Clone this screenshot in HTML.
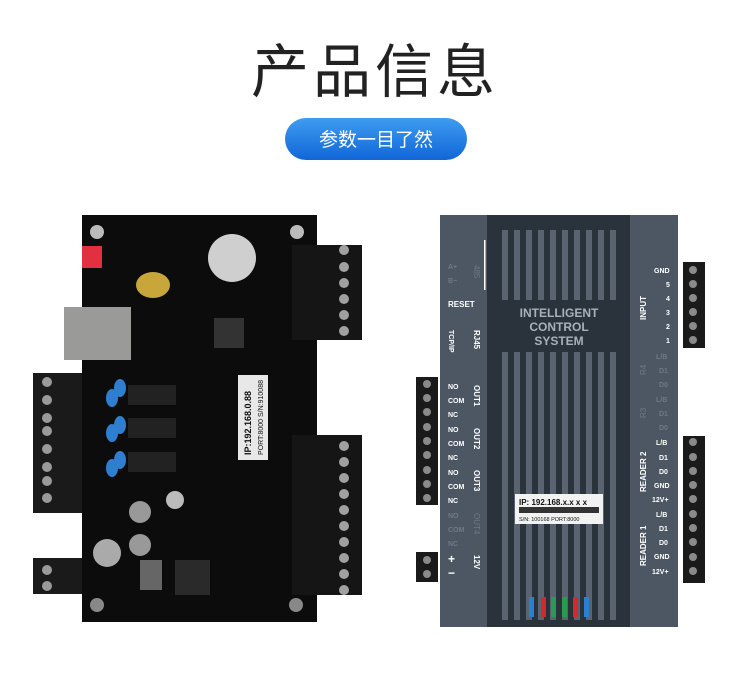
<!DOCTYPE html>
<html><head><meta charset="utf-8"><style>
body{margin:0;width:750px;height:671px;background:#fff;overflow:hidden;font-family:"Liberation Sans","Noto Sans CJK SC",sans-serif}
</style></head><body>
<svg width="750" height="671" viewBox="0 0 750 671" xmlns="http://www.w3.org/2000/svg">
<defs>
<linearGradient id="pill" x1="0" x2="0" y1="0" y2="1"><stop offset="0" stop-color="#3e9cf0"/><stop offset="1" stop-color="#1166d8"/></linearGradient>
</defs>
<text x="375" y="92" text-anchor="middle" font-size="58" fill="#222" font-family="Noto Sans CJK SC,sans-serif" letter-spacing="4">产品信息</text>
<rect x="285" y="118" width="182" height="42" rx="21" fill="url(#pill)"/>
<text x="376" y="146" text-anchor="middle" font-size="19" fill="#fff" font-family="Noto Sans CJK SC,sans-serif">参数一目了然</text>

<!-- LEFT BOARD -->
<g>
<rect x="33" y="373" width="52" height="140" fill="#1a1a1a"/>
<rect x="33" y="558" width="52" height="36" fill="#1a1a1a"/>
<g fill="#9a9a9a"><circle cx="47" cy="382" r="5"/><circle cx="47" cy="400" r="5"/><circle cx="47" cy="418" r="5"/><circle cx="47" cy="431" r="5"/><circle cx="47" cy="449" r="5"/><circle cx="47" cy="467" r="5"/><circle cx="47" cy="481" r="5"/><circle cx="47" cy="498" r="5"/><circle cx="47" cy="570" r="5"/><circle cx="47" cy="586" r="5"/></g>
<rect x="82" y="215" width="235" height="407" fill="#0c0c0c"/>
<rect x="292" y="245" width="70" height="95" fill="#151515"/>
<rect x="292" y="435" width="70" height="160" fill="#151515"/>
<g fill="#a0a0a0"><circle cx="344" cy="250" r="5"/><circle cx="344" cy="267" r="5"/><circle cx="344" cy="283" r="5"/><circle cx="344" cy="299" r="5"/><circle cx="344" cy="315" r="5"/><circle cx="344" cy="331" r="5"/>
<circle cx="344" cy="446" r="5"/><circle cx="344" cy="462" r="5"/><circle cx="344" cy="478" r="5"/><circle cx="344" cy="494" r="5"/><circle cx="344" cy="510" r="5"/><circle cx="344" cy="526" r="5"/><circle cx="344" cy="542" r="5"/><circle cx="344" cy="558" r="5"/><circle cx="344" cy="574" r="5"/><circle cx="344" cy="590" r="5"/></g>
<rect x="64" y="307" width="67" height="53" fill="#9a9a98"/>
<rect x="82" y="246" width="20" height="22" fill="#e23040"/>
<circle cx="97" cy="232" r="7" fill="#bbb"/><circle cx="297" cy="232" r="7" fill="#bbb"/>
<circle cx="97" cy="605" r="7" fill="#888"/><circle cx="296" cy="605" r="7" fill="#888"/>
<circle cx="232" cy="258" r="24" fill="#cfcfcf"/>
<ellipse cx="153" cy="285" rx="17" ry="13" fill="#c9a63a"/>
<rect x="214" y="318" width="30" height="30" fill="#333"/>
<rect x="128" y="385" width="48" height="20" fill="#222"/><rect x="128" y="418" width="48" height="20" fill="#222"/><rect x="128" y="452" width="48" height="20" fill="#222"/>
<g fill="#2f7fd0"><ellipse cx="120" cy="388" rx="6" ry="9"/><ellipse cx="112" cy="398" rx="6" ry="9"/><ellipse cx="120" cy="425" rx="6" ry="9"/><ellipse cx="112" cy="433" rx="6" ry="9"/><ellipse cx="120" cy="460" rx="6" ry="9"/><ellipse cx="112" cy="468" rx="6" ry="9"/></g>
<rect x="238" y="375" width="30" height="85" fill="#e8e8e8"/>
<text transform="translate(251,455) rotate(-90)" font-size="9" font-weight="bold" fill="#111">IP:192.168.0.88</text>
<text transform="translate(263,455) rotate(-90)" font-size="7" fill="#111">PORT:8000 S/N:910088</text>
<circle cx="107" cy="553" r="14" fill="#aaa"/><circle cx="140" cy="512" r="11" fill="#999"/><circle cx="140" cy="545" r="11" fill="#999"/><circle cx="175" cy="500" r="9" fill="#bbb"/>
<rect x="140" y="560" width="22" height="30" fill="#666"/><rect x="175" y="560" width="35" height="35" fill="#2a2a2a"/>
</g>

<!-- RIGHT DEVICE -->
<g>
<rect x="416" y="377" width="22" height="128" fill="#1a1a1a"/>
<rect x="416" y="552" width="22" height="30" fill="#1a1a1a"/>
<rect x="683" y="262" width="22" height="86" fill="#1a1a1a"/>
<rect x="683" y="436" width="22" height="147" fill="#1a1a1a"/>
<g fill="#8a8a8a">
<circle cx="427" cy="384" r="4"/><circle cx="427" cy="398" r="4"/><circle cx="427" cy="412" r="4"/><circle cx="427" cy="427" r="4"/><circle cx="427" cy="441" r="4"/><circle cx="427" cy="455" r="4"/><circle cx="427" cy="470" r="4"/><circle cx="427" cy="484" r="4"/><circle cx="427" cy="498" r="4"/><circle cx="427" cy="560" r="4"/><circle cx="427" cy="574" r="4"/>
<circle cx="693" cy="270" r="4"/><circle cx="693" cy="284" r="4"/><circle cx="693" cy="298" r="4"/><circle cx="693" cy="312" r="4"/><circle cx="693" cy="326" r="4"/><circle cx="693" cy="340" r="4"/>
<circle cx="693" cy="442" r="4"/><circle cx="693" cy="457" r="4"/><circle cx="693" cy="471" r="4"/><circle cx="693" cy="485" r="4"/><circle cx="693" cy="499" r="4"/><circle cx="693" cy="514" r="4"/><circle cx="693" cy="528" r="4"/><circle cx="693" cy="542" r="4"/><circle cx="693" cy="557" r="4"/><circle cx="693" cy="571" r="4"/>
</g>
<rect x="440" y="215" width="238" height="412" fill="#4d5764"/>
<rect x="487" y="215" width="143" height="412" fill="#2a323b"/>
<g fill="#5a6470">
<rect x="502" y="230" width="6" height="390"/><rect x="514" y="230" width="6" height="390"/><rect x="526" y="230" width="6" height="390"/><rect x="538" y="230" width="6" height="390"/><rect x="550" y="230" width="6" height="390"/><rect x="562" y="230" width="6" height="390"/><rect x="574" y="230" width="6" height="390"/><rect x="586" y="230" width="6" height="390"/><rect x="598" y="230" width="6" height="390"/><rect x="610" y="230" width="6" height="390"/>
</g>
<rect x="500" y="300" width="118" height="52" fill="#2a323b"/>
<text x="559" y="317" text-anchor="middle" font-size="12" fill="#a8b0ba" font-weight="bold">INTELLIGENT</text>
<text x="559" y="331" text-anchor="middle" font-size="12" fill="#a8b0ba" font-weight="bold">CONTROL</text>
<text x="559" y="345" text-anchor="middle" font-size="12" fill="#a8b0ba" font-weight="bold">SYSTEM</text>
<rect x="515" y="494" width="88" height="30" fill="#f2f2f2"/>
<text x="519" y="505" font-size="8" font-weight="bold" fill="#111">IP: 192.168.x.x x x</text>
<rect x="519" y="507" width="80" height="6" fill="#333"/>
<text x="519" y="521" font-size="5.5" fill="#111">S/N: 100168 PORT:8000</text>
<rect x="529" y="597" width="5" height="20" fill="#2a7fd0"/><rect x="541" y="597" width="5" height="20" fill="#d02a2a"/><rect x="551" y="597" width="5" height="20" fill="#2a9a50"/><rect x="562" y="597" width="5" height="20" fill="#2a9a50"/><rect x="573" y="597" width="5" height="20" fill="#d02a2a"/><rect x="584" y="597" width="5" height="20" fill="#2a7fd0"/>
<g font-size="7" font-weight="bold" fill="#fff">
<text x="448" y="307" font-size="8">RESET</text>
<text x="448" y="389">NO</text><text x="448" y="403">COM</text><text x="448" y="417">NC</text>
<text x="448" y="432">NO</text><text x="448" y="446">COM</text><text x="448" y="460">NC</text>
<text x="448" y="475">NO</text><text x="448" y="489">COM</text><text x="448" y="503">NC</text>
<text x="448" y="563" font-size="12">+</text><text x="448" y="577" font-size="12">−</text>
<text x="654" y="273" font-size="7">GND</text><text x="666" y="287">5</text><text x="666" y="301">4</text><text x="666" y="315">3</text><text x="666" y="329">2</text><text x="666" y="343">1</text>
<text x="656" y="445">L/B</text><text x="659" y="460">D1</text><text x="659" y="474">D0</text><text x="654" y="488">GND</text><text x="652" y="502">12V+</text>
<text x="656" y="517">L/B</text><text x="659" y="531">D1</text><text x="659" y="545">D0</text><text x="654" y="559">GND</text><text x="652" y="574">12V+</text>
</g>
<g font-size="7" fill="#6f7884" font-weight="bold">
<text x="448" y="269">A+</text><text x="448" y="283">B−</text>
<text x="448" y="518">NO</text><text x="448" y="532">COM</text><text x="448" y="546">NC</text>
<text x="656" y="359">L/B</text><text x="659" y="373">D1</text><text x="659" y="387">D0</text>
<text x="656" y="402">L/B</text><text x="659" y="416">D1</text><text x="659" y="430">D0</text>
</g>
<g font-size="8" font-weight="bold" fill="#fff">
<text transform="translate(474,330) rotate(90)">RJ45</text>
<text transform="translate(449,330) rotate(90)" font-size="7">TCP/IP</text>
<text transform="translate(474,385) rotate(90)">OUT1</text>
<text transform="translate(474,428) rotate(90)">OUT2</text>
<text transform="translate(474,470) rotate(90)">OUT3</text>
<text transform="translate(474,555) rotate(90)">12V</text>
<text transform="translate(646,320) rotate(-90)">INPUT</text>
<text transform="translate(646,492) rotate(-90)">READER 2</text>
<text transform="translate(646,566) rotate(-90)">READER 1</text>
</g>
<g font-size="8" fill="#6f7884">
<text transform="translate(474,265) rotate(90)">485</text>
<text transform="translate(474,513) rotate(90)">OUT4</text>
<text transform="translate(646,375) rotate(-90)">R4</text>
<text transform="translate(646,418) rotate(-90)">R3</text>
</g>
<rect x="484" y="240" width="1.5" height="50" fill="#fff"/>
</g>
</svg>
</body></html>
